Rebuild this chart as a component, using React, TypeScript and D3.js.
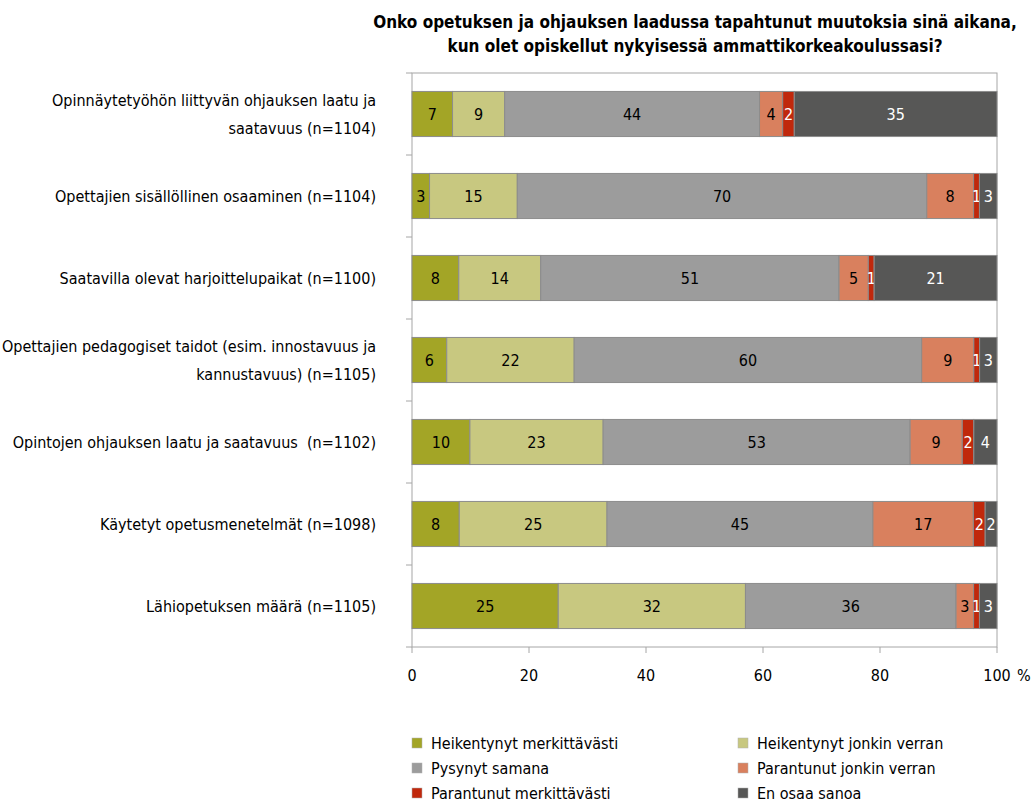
import * as d3 from "d3";

const title = [
  "Onko opetuksen ja ohjauksen laadussa tapahtunut muutoksia sinä aikana,",
  "kun olet opiskellut nykyisessä ammattikorkeakoulussasi?",
];

const categories = [
  ["Opinnäytetyöhön liittyvän ohjauksen laatu ja", "saatavuus (n=1104)"],
  ["Opettajien sisällöllinen osaaminen (n=1104)"],
  ["Saatavilla olevat harjoittelupaikat (n=1100)"],
  ["Opettajien pedagogiset taidot (esim. innostavuus ja", "kannustavuus) (n=1105)"],
  ["Opintojen ohjauksen laatu ja saatavuus  (n=1102)"],
  ["Käytetyt opetusmenetelmät (n=1098)"],
  ["Lähiopetuksen määrä (n=1105)"],
];

const seriesNames = [
  "Heikentynyt merkittävästi",
  "Heikentynyt jonkin verran",
  "Pysynyt samana",
  "Parantunut jonkin verran",
  "Parantunut merkittävästi",
  "En osaa sanoa",
];

const seriesColors = ["#a3a526", "#c8c880", "#9c9c9c", "#d9805e", "#c0280c", "#575756"];
const labelColors = ["#000", "#000", "#000", "#000", "#fff", "#fff"];

const heikentynytMerkittavasti = [7, 3, 8, 6, 10, 8, 25];
const heikentynytJonkin = [9, 15, 14, 22, 23, 25, 32];
const pysynytSamana = [44, 70, 51, 60, 53, 45, 36];
const parantunutJonkin = [4, 8, 5, 9, 9, 17, 3];
const parantunutMerkittavasti = [2, 1, 1, 1, 2, 2, 1];
const enOsaaSanoa = [35, 3, 21, 3, 4, 2, 3];

const xTicks = [0, 20, 40, 60, 80, 100];

const legendOrder = [0, 1, 2, 3, 4, 5];

const font = "'Liberation Sans Narrow', 'DejaVu Sans Condensed', 'Roboto Condensed', sans-serif";

export default function App() {
  const width = 1031;
  const height = 803;
  const margin = { top: 73, left: 412, right: 34, bottom: 156 };
  const innerWidth = width - margin.left - margin.right;
  const innerHeight = height - margin.top - margin.bottom;

  const allSeries = [
    heikentynytMerkittavasti,
    heikentynytJonkin,
    pysynytSamana,
    parantunutJonkin,
    parantunutMerkittavasti,
    enOsaaSanoa,
  ];

  const rows = categories.map((_, i) => {
    const row: Record<string, number> = { idx: i };
    seriesNames.forEach((s, j) => (row[s] = allSeries[j][i]));
    return row;
  });

  // rows do not always sum to 100 because of rounding, so stretch them to the full width
  const stacked = d3.stack<Record<string, number>>().keys(seriesNames).offset(d3.stackOffsetExpand)(rows);

  const x = d3.scaleLinear().domain([0, 1]).range([0, innerWidth]);
  const y = d3
    .scaleBand<number>()
    .domain(d3.range(categories.length))
    .range([0, innerHeight])
    .paddingInner(0.45)
    .paddingOuter(0.225);

  const step = innerHeight / categories.length;

  return (
    <svg width={width} height={height} style={{ position: "absolute", left: 0, top: 0, fontFamily: font }}>
      <g textAnchor="middle" fontWeight="bold" fontSize={17}>
        {title.map((t, i) => (
          <text key={i} x={695} y={28 + i * 24}>
            {t}
          </text>
        ))}
      </g>
      <g transform={`translate(${margin.left}, ${margin.top})`}>
        <rect x={0} y={0} width={innerWidth} height={innerHeight} fill="none" stroke="#a6a6a6" />
        {d3.range(categories.length + 1).map((i) => (
          <line key={i} x1={-6} x2={0} y1={i * step} y2={i * step} stroke="#a6a6a6" />
        ))}
        {xTicks.map((t) => (
          <g key={t}>
            <line x1={x(t / 100)} x2={x(t / 100)} y1={innerHeight} y2={innerHeight + 6} stroke="#a6a6a6" />
            <text x={x(t / 100)} y={innerHeight + 34} textAnchor="middle" fontSize={16}>
              {t}
            </text>
          </g>
        ))}
        <text x={innerWidth + 20} y={innerHeight + 34} fontSize={16}>
          %
        </text>
        {categories.map((lines, i) => {
          const cy = (y(i) ?? 0) + y.bandwidth() / 2;
          return (
            <text key={i} textAnchor="end" fontSize={16} style={{ whiteSpace: "pre" }}>
              {lines.map((l, k) => (
                <tspan key={k} x={-36} y={cy + 6 + (k - (lines.length - 1) / 2) * 28}>
                  {l}
                </tspan>
              ))}
            </text>
          );
        })}
        {stacked.map((s, j) => (
          <g key={s.key}>
            {s.map((d, i) => {
              const x0 = x(d[0]);
              const x1 = x(d[1]);
              const by = y(i) ?? 0;
              return (
                <g key={i}>
                  <rect
                    x={x0}
                    y={by}
                    width={x1 - x0}
                    height={y.bandwidth()}
                    fill={seriesColors[j]}
                    stroke="#8c8c8c"
                    strokeWidth={1}
                  />
                  <text
                    x={(x0 + x1) / 2}
                    y={by + y.bandwidth() / 2 + 6}
                    textAnchor="middle"
                    fontSize={16}
                    fill={labelColors[j]}
                  >
                    {allSeries[j][i]}
                  </text>
                </g>
              );
            })}
          </g>
        ))}
      </g>
      <g fontSize={16}>
        {legendOrder.map((j) => {
          const col = j % 2;
          const row = Math.floor(j / 2);
          const lx = col === 0 ? 412 : 738;
          const ly = 743 + row * 25;
          return (
            <g key={j}>
              <rect x={lx} y={ly - 5} width={10} height={10} fill={seriesColors[j]} stroke="#b0b0b0" strokeWidth={0.5} />
              <text x={lx + 19} y={ly + 6}>
                {seriesNames[j]}
              </text>
            </g>
          );
        })}
      </g>
    </svg>
  );
}
